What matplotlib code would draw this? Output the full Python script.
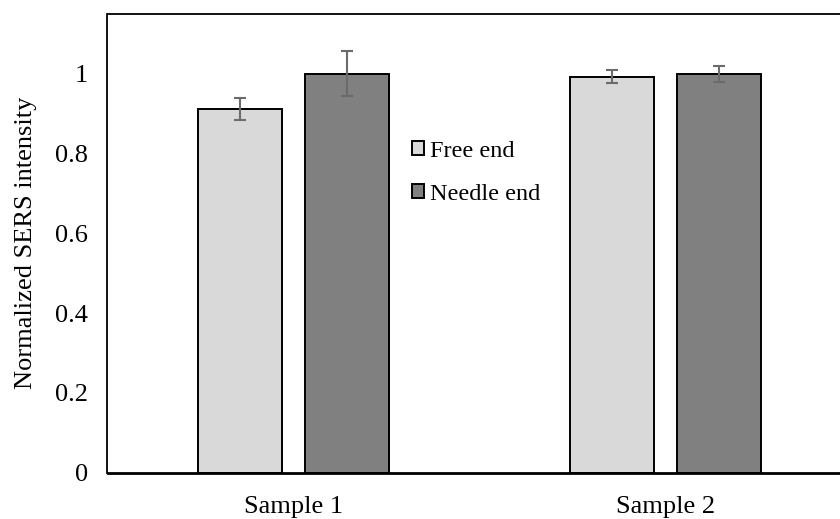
import matplotlib
matplotlib.use("Agg")
import matplotlib.pyplot as plt
import numpy as np

categories = ["Sample 1", "Sample 2"]
series_names = ["Free end", "Needle end"]
free_end = [0.912, 0.993]
needle_end = [1.0, 1.0]
free_err = [0.028, 0.017]
needle_err = [0.056, 0.020]
yticks = [0, 0.2, 0.4, 0.6, 0.8, 1]
ytick_labels = ["0", "0.2", "0.4", "0.6", "0.8", "1"]

plt.rcParams['font.family'] = ['Liberation Serif', 'DejaVu Serif']

W, H = 840, 519
fig = plt.figure(figsize=(W / 100, H / 100), dpi=100)
ax = fig.add_axes([107.5 / W, (H - 472.5) / H, 744 / W, (472.5 - 14) / H])

x = np.arange(len(categories))
bw = 0.2258
off = 0.1425
err_kw = dict(ecolor="#6b6b6b", elinewidth=1.5, capsize=4.3, capthick=1.5)
ax.bar(x - off, free_end, bw, yerr=free_err, color="#d9d9d9", edgecolor="black",
       linewidth=1.4, label=series_names[0], error_kw=err_kw, zorder=2)
ax.bar(x + off, needle_end, bw, yerr=needle_err, color="#808080", edgecolor="black",
       linewidth=1.4, label=series_names[1], error_kw=err_kw, zorder=2)

ax.set_xlim(-0.5, 1.5)
ax.set_ylim(0, 1.15)
ax.set_xticks(x)
ax.set_xticklabels(categories, fontsize=19)
ax.set_yticks(yticks)
ax.set_yticklabels(ytick_labels, fontsize=19)
ax.tick_params(axis='both', length=0)
ax.tick_params(axis='y', pad=14)
ax.tick_params(axis='x', pad=17)
ax.set_ylabel("Normalized SERS intensity", fontsize=19, labelpad=13)

for s in ["top", "left"]:
    ax.spines[s].set_linewidth(1.3)
    ax.spines[s].set_color("black")
ax.spines["bottom"].set_linewidth(2.0)
ax.spines["bottom"].set_color("black")
ax.spines["right"].set_visible(False)

leg = ax.legend(loc="upper left", bbox_to_anchor=(412 / W, 1 - 141 / H),
                bbox_transform=fig.transFigure, frameon=False, fontsize=17.5,
                handlelength=0.5, handleheight=0.5, handletextpad=0.25,
                labelspacing=0.9, borderpad=0, borderaxespad=0)

fig.savefig("out.png", dpi=100)
